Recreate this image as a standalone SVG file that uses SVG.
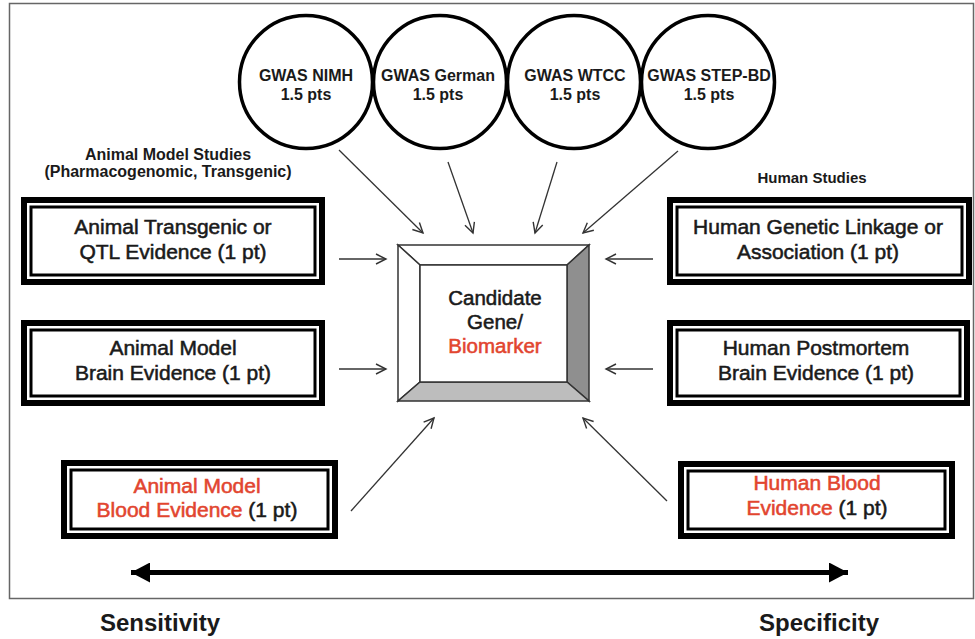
<svg xmlns="http://www.w3.org/2000/svg" width="975" height="639" viewBox="0 0 975 639">
<style>
text{font-family:"Liberation Sans",Arial,sans-serif;fill:#1a1a1a;text-anchor:middle}
.gw{font-size:16px;font-weight:bold}
.hd{font-size:16px;font-weight:bold}
.bx{font-size:21px;stroke:#1a1a1a;stroke-width:0.55}
.red{fill:#e2452f;stroke:#e2452f}
.ax{font-size:24px;font-weight:bold}
.ob{fill:#fff;stroke:#000;stroke-width:6}
.ib{fill:none;stroke:#000;stroke-width:3}
.circ{fill:#fff;stroke:#000;stroke-width:3.5}
.con{stroke:#333;stroke-width:1.3;fill:none;marker-end:url(#arr)}
.bev{stroke:#333;stroke-width:1.5}
</style>
<defs>
<marker id="arr" markerUnits="userSpaceOnUse" markerWidth="14" markerHeight="14" refX="11" refY="6" orient="auto">
<path d="M1,1 L11,6 L1,11" fill="none" stroke="#333" stroke-width="1.4"/>
</marker>
<marker id="big" markerUnits="userSpaceOnUse" markerWidth="22" markerHeight="20" refX="19" refY="10" orient="auto-start-reverse">
<path d="M0,0 L19,10 L0,20 Z" fill="#000"/>
</marker>
</defs>
<rect x="0" y="0" width="975" height="639" fill="#fff"/>
<rect id="frame" x="9.5" y="3.5" width="964" height="595" fill="none" stroke="#666" stroke-width="1.5"/>

<g id="gwas-nimh"><circle class="circ" cx="306" cy="82" r="66.5"/><text class="gw" x="306" y="81">GWAS NIMH</text><text class="gw" x="306" y="100">1.5 pts</text></g>
<g id="gwas-german"><circle class="circ" cx="440" cy="82" r="66.5"/><text class="gw" x="438" y="81">GWAS German</text><text class="gw" x="438" y="100">1.5 pts</text></g>
<g id="gwas-wtcc"><circle class="circ" cx="574" cy="82" r="66.5"/><text class="gw" x="575" y="81">GWAS WTCC</text><text class="gw" x="575" y="100">1.5 pts</text></g>
<g id="gwas-stepbd"><circle class="circ" cx="708" cy="82" r="66.5"/><text class="gw" x="709" y="81">GWAS STEP-BD</text><text class="gw" x="709" y="100">1.5 pts</text></g>

<g id="label-animal"><text class="hd" x="168" y="160">Animal Model Studies</text><text class="hd" x="168" y="177">(Pharmacogenomic, Transgenic)</text></g>
<g id="label-human"><text class="hd" x="812" y="183" style="font-size:15px">Human Studies</text></g>

<g id="animal-transgenic"><rect class="ob" x="24" y="200" width="298" height="82"/><rect class="ib" x="31" y="207" width="284" height="68"/><text class="bx" x="173" y="234">Animal Transgenic or</text><text class="bx" x="173" y="259">QTL Evidence (1 pt)</text></g>
<g id="animal-brain"><rect class="ob" x="24" y="323" width="298" height="80"/><rect class="ib" x="31" y="330" width="284" height="66"/><text class="bx" x="173" y="355">Animal Model</text><text class="bx" x="173" y="380">Brain Evidence (1 pt)</text></g>
<g id="animal-blood"><rect class="ob" x="64" y="463" width="271" height="73"/><rect class="ib" x="71" y="470" width="257" height="59"/><text class="bx red" x="197" y="493">Animal Model</text><text class="bx" x="197" y="517"><tspan class="red">Blood Evidence</tspan> (1 pt)</text></g>

<g id="human-linkage"><rect class="ob" x="670" y="200" width="299" height="82"/><rect class="ib" x="677" y="207" width="285" height="68"/><text class="bx" x="818" y="234">Human Genetic Linkage or</text><text class="bx" x="818" y="259">Association (1 pt)</text></g>
<g id="human-brain"><rect class="ob" x="670" y="323" width="297" height="80"/><rect class="ib" x="677" y="330" width="283" height="66"/><text class="bx" x="816" y="355">Human Postmortem</text><text class="bx" x="816" y="380">Brain Evidence (1 pt)</text></g>
<g id="human-blood"><rect class="ob" x="681" y="464" width="271" height="72"/><rect class="ib" x="688" y="471" width="257" height="58"/><text class="bx red" x="817" y="490">Human Blood</text><text class="bx" x="817" y="515"><tspan class="red">Evidence</tspan> (1 pt)</text></g>

<g id="candidate">
<polygon class="bev" points="398,245 589,245 567,265 420,265" fill="#fff"/>
<polygon class="bev" points="398,245 420,265 420,382 398,401" fill="#fff"/>
<polygon class="bev" points="589,245 589,401 567,382 567,265" fill="#8f8f8f"/>
<polygon class="bev" points="398,401 589,401 567,382 420,382" fill="#bdbdbd"/>
<rect class="bev" x="420" y="265" width="147" height="117" fill="#fff"/>
<text class="bx" x="495" y="305" style="font-size:20.5px">Candidate</text>
<text class="bx" x="495" y="329" style="font-size:20.5px">Gene/</text>
<text class="bx red" x="495" y="353" style="font-size:20.5px">Biomarker</text>
</g>

<g id="connectors">
<line class="con" x1="339" y1="150" x2="423" y2="233"/>
<line class="con" x1="448" y1="162" x2="473" y2="233"/>
<line class="con" x1="557" y1="162" x2="535" y2="233"/>
<line class="con" x1="678" y1="151" x2="583" y2="233"/>
<line class="con" x1="339" y1="259" x2="386" y2="259"/>
<line class="con" x1="339" y1="369" x2="386" y2="369"/>
<line class="con" x1="653" y1="259" x2="606" y2="259"/>
<line class="con" x1="653" y1="369" x2="606" y2="369"/>
<line class="con" x1="351" y1="511" x2="434" y2="418"/>
<line class="con" x1="667" y1="501" x2="583" y2="418"/>
<line x1="131" y1="572.5" x2="848" y2="572.5" stroke="#000" stroke-width="5" marker-start="url(#big)" marker-end="url(#big)"/>
</g>

<text class="ax" x="160" y="631">Sensitivity</text>
<text class="ax" x="819" y="631">Specificity</text>
</svg>
